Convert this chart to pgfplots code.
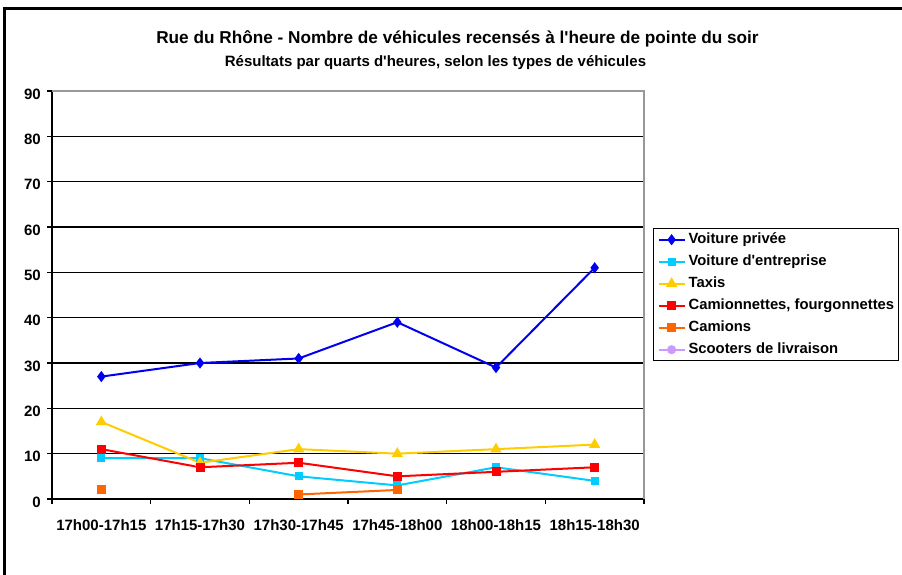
\documentclass[border=0pt]{standalone}
\usepackage{pgfplots}
\pgfplotsset{compat=1.18}
\usepackage{fontspec}
\setmainfont{Liberation Sans}
\definecolor{cprivee}{HTML}{0000EE}
\definecolor{centr}{HTML}{00CCFF}
\definecolor{ctaxi}{HTML}{FFCC00}
\definecolor{ccamt}{HTML}{FF0000}
\definecolor{ccam}{HTML}{FF6600}
\definecolor{cscoot}{HTML}{CC99FF}
\definecolor{cborder}{HTML}{999999}
\newcommand{\fs}{\bfseries\fontsize{15pt}{18pt}\selectfont}
\newcommand{\fsl}{\bfseries\fontsize{14.8pt}{18pt}\selectfont}
\begin{document}
\begin{tikzpicture}[x=1pt,y=1pt]
\begin{axis}[
  at={(52pt,75pt)}, anchor=south west,
  scale only axis, width=592pt, height=408pt,
  xmin=-0.5, xmax=5.5, ymin=0, ymax=90,
  axis lines=left,
  axis line style={-, line width=2.5pt, black},
  xtick={-0.5,0.5,...,5.5},
  xticklabels={,,,,,,},
  extra x ticks={0,1,2,3,4,5},
  extra x tick labels={17h00-17h15,17h15-17h30,17h30-17h45,17h45-18h00,18h00-18h15,18h15-18h30},
  extra x tick style={major tick length=0pt, xticklabel style={yshift=-20pt}},
  ytick={0,10,...,90},
  tick align=outside,
  major tick length=5pt,
  tick style={black, line width=1.5pt},
  ymajorgrids=true,
  major grid style={black, line width=1.5pt},
  /pgf/number format/assume math mode=true,
  ticklabel style={font=\fs, inner sep=0pt},
  yticklabel style={anchor=east, xshift=-6pt, yshift=-3pt},
  unbounded coords=jump,
  clip=false,
  legend style={at={(1.0152,0.664)}, anchor=north west, draw=black, line width=1.2pt,
    font=\fsl, row sep=8pt, inner xsep=4pt, inner ysep=4pt,
    nodes={inner sep=0pt, text height=11pt, text depth=3pt}},
  legend cell align=left,
  legend image code/.code={\draw[mark repeat=2,mark phase=2] plot coordinates {(0pt,0pt) (13pt,0pt) (26pt,0pt)};\path (29pt,0pt);},
]
\addplot[color=cprivee, line width=2pt, mark=diamond*, mark size=4pt, mark options={solid}] coordinates {(0,27)(1,30)(2,31)(3,39)(4,29)(5,51)};
\addlegendentry{Voiture privée}
\addplot[color=centr, line width=2pt, mark=square*, mark size=3pt] coordinates {(0,9)(1,9)(2,5)(3,3)(4,7)(5,4)};
\addlegendentry{Voiture d\textquotesingle entreprise}
\addplot[color=ctaxi, line width=2pt, mark=triangle*, mark size=4.5pt] coordinates {(0,17)(1,8)(2,11)(3,10)(4,11)(5,12)};
\addlegendentry{Taxis}
\addplot[color=ccamt, line width=2pt, mark=square*, mark size=3.5pt] coordinates {(0,11)(1,7)(2,8)(3,5)(4,6)(5,7)};
\addlegendentry{Camionnettes, fourgonnettes}
\addplot[color=ccam, line width=2pt, mark=square*, mark size=3.5pt] coordinates {(0,2)(1,nan)(2,1)(3,2)};
\addlegendentry{Camions}
\addlegendimage{color=cscoot, line width=2pt, mark=*, mark size=3.5pt}
\addlegendentry{Scooters de livraison}
\draw[cborder, line width=2pt] (rel axis cs:0,1) -- (rel axis cs:1,1) -- (rel axis cs:1,0);
\end{axis}
\node[font=\bfseries\fontsize{17.2pt}{20pt}\selectfont, anchor=base] at (457.5pt,530.7pt) {Rue du Rhône - Nombre de véhicules recensés à l\textquotesingle heure de pointe du soir};
\node[font=\fs, anchor=base] at (435.5pt,507.3pt) {Résultats par quarts d\textquotesingle heures, selon les types de véhicules};
\draw[line width=3pt, black] (4.5pt,-20pt) -- (4.5pt,565pt) -- (920pt,565pt);
\pgfresetboundingbox
\path[use as bounding box] (0pt,0pt) rectangle (902pt,574pt);
\end{tikzpicture}
\end{document}
